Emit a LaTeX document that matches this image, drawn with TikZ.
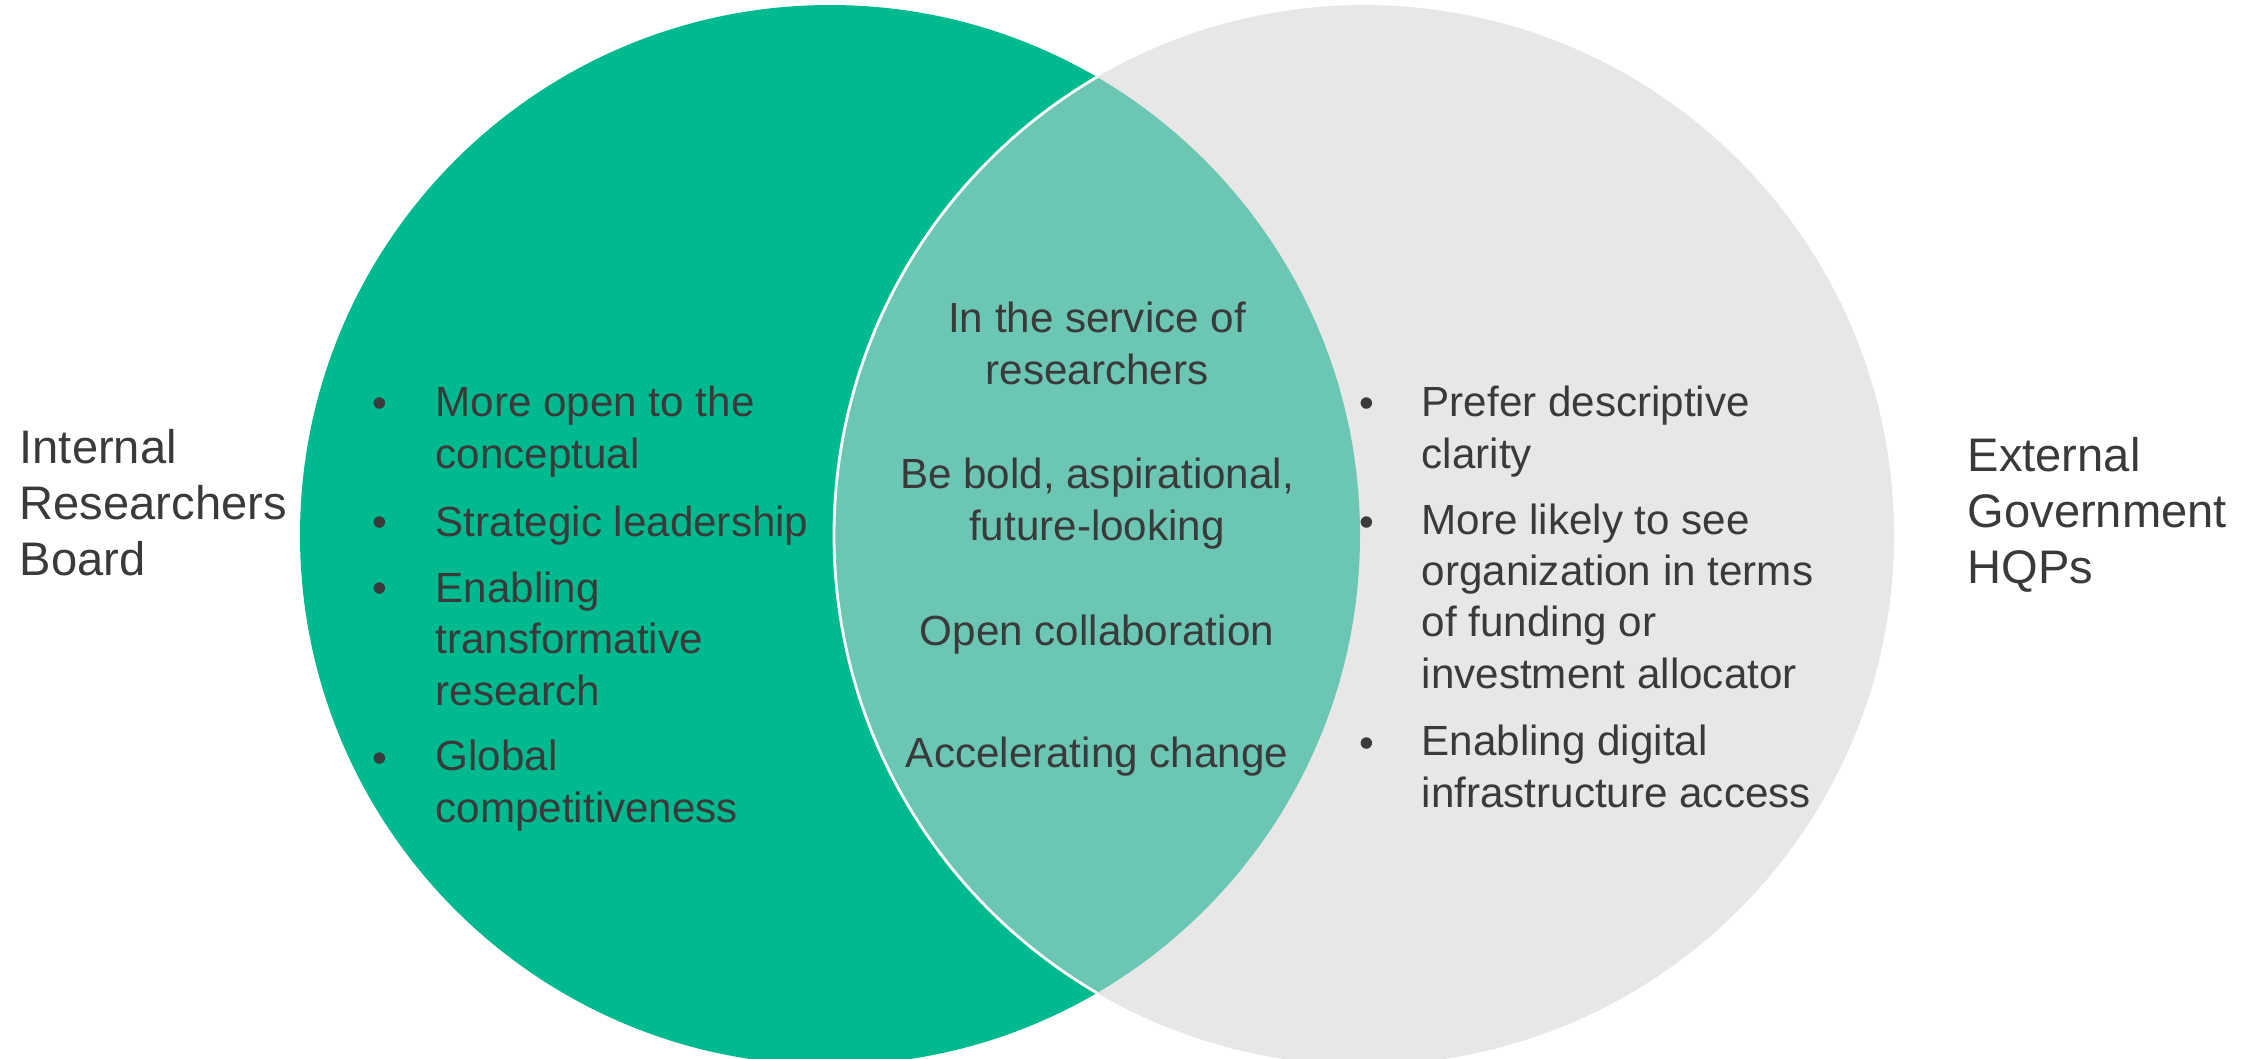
\documentclass[tikz,border=0pt]{standalone}
\usepackage{fontspec}
\setmainfont{Liberation Sans}

\definecolor{vgreen}{HTML}{00BA8F}
\definecolor{vlens}{HTML}{6BC6B4}
\definecolor{vgrey}{HTML}{E7E7E7}
\definecolor{vtext}{HTML}{3A3A3A}

\begin{document}
\begin{tikzpicture}[x=1cm,y=-1cm,
  side/.style={font=\fontsize{13.4}{15.9}\selectfont, text=vtext,
    align=left, inner sep=0pt, anchor=base west},
  item/.style={font=\fontsize{12}{14.6}\selectfont, text=vtext,
    align=left, inner sep=0pt, anchor=base west},
  common/.style={font=\fontsize{12}{14.6}\selectfont, text=vtext,
    align=center, inner sep=0pt, anchor=base},
  dot/.style={font=\fontsize{12}{14.6}\selectfont, text=vtext,
    inner sep=0pt, anchor=base}]

% -----------------------------
% Parameters
% -----------------------------
\def\R{5.30}      % circle radius
\def\xbl{3.80}    % left bullets
\def\xtl{4.35}    % left item text
\def\xbr{13.67}   % right bullets
\def\xtr{14.21}   % right item text

\useasboundingbox (0,0) rectangle (22.56,10.58);

% -----------------------------
% Circles
% -----------------------------
\coordinate (cl) at (8.30,5.35);
\coordinate (cr) at (13.64,5.35);

\fill[vgreen] (cl) circle (\R);
\fill[vgrey] (cr) circle (\R);

% overlap, with a white edge on the left only
\begin{scope}
  \clip (cl) circle (\R);
  \fill[vlens] (cr) circle (\R);
  \draw[white, line width=0.8pt] (cr) circle (\R);
\end{scope}

% -----------------------------
% Group names (base = last line)
% -----------------------------
\node[side] (internal) at (0.19,5.75) {Internal\\Researchers\\Board};
\node[side] (external) at (19.67,5.83) {External\\Government\\HQPs};

% -----------------------------
% Left list: bullet line / last line
% -----------------------------
\foreach \yb/\yl/\txt [count=\i] in {4.17/4.68/{More open to the\\conceptual},
    5.36/5.36/{Strategic leadership},
    6.02/7.05/{Enabling\\transformative\\research},
    7.72/8.22/{Global\\competitiveness}} {%
  \node[dot] (lb-\i) at (\xbl,\yb) {•};
  \node[item] (li-\i) at (\xtl,\yl) {\txt};
}

% -----------------------------
% Shared values
% -----------------------------
\foreach \yl/\txt [count=\i] in {3.84/{In the service of\\researchers},
    5.40/{Be bold, aspirational,\\future-looking},
    6.45/{Open collaboration},
    7.67/{Accelerating change}} {%
  \node[common] (mi-\i) at (10.97,\yl) {\txt};
}

% -----------------------------
% Right list
% -----------------------------
\foreach \yb/\yl/\txt [count=\i] in {4.17/4.68/{Prefer descriptive\\clarity},
    5.36/6.88/{More likely to see\\organization in terms\\of funding or\\investment allocator},
    7.57/8.07/{Enabling digital\\infrastructure access}} {%
  \node[dot] (rb-\i) at (\xbr,\yb) {•};
  \node[item] (ri-\i) at (\xtr,\yl) {\txt};
}

\end{tikzpicture}
\end{document}
